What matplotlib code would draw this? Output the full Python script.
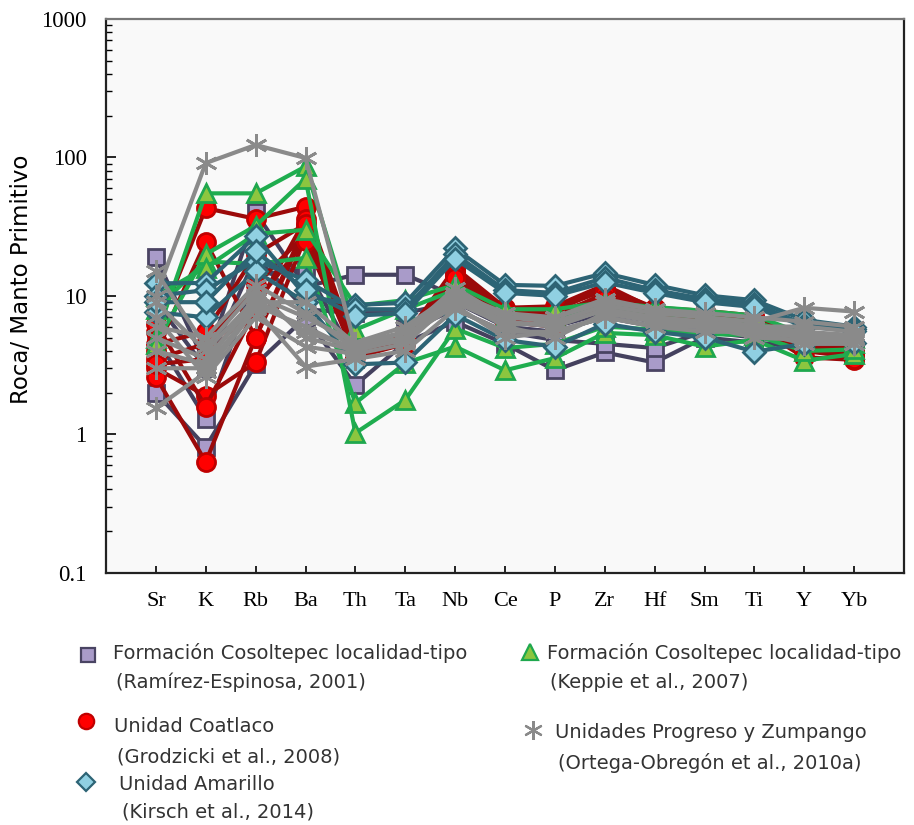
import matplotlib
matplotlib.use("Agg")
import matplotlib.pyplot as plt
import numpy as np

elements = ["Sr", "K", "Rb", "Ba", "Th", "Ta", "Nb", "Ce", "P", "Zr",
            "Hf", "Sm", "Ti", "Y", "Yb"]

# Formación Cosoltepec localidad-tipo (Ramírez-Espinosa, 2001)
ramirez = [
    [19, 3.2, 40, 11.7, 14.2, 14.2, 10, 6.5, 6, 7.5, 6.5, 6.5, 6, 5, 4.6],
    [2.0, 0.81, 3.2, 7, 2.27, 4.6, 6.5, 4.5, 2.9, 3.9, 3.3, 5, 4.6, 4.3, 4.0],
    [5, 1.3, 14, 16, 3.5, 5.5, 8, 5.5, 4.8, 4.5, 4.2, 5.5, 5, 4.6, 4.3],
    [9, 3, 19, 8, 7.5, 7.5, 9, 6, 5.5, 7, 6, 6, 5.5, 5, 4.7],
]

# Unidad Coatlaco (Grodzicki et al., 2008)
grodzicki = [
    [5.5, 43, 36, 44, 4.2, 5, 16, 8.2, 8.4, 12, 8, 7.5, 7, 4.8, 4.2],
    [4, 24.6, 5.0, 32.5, 3.8, 4.8, 14, 7.5, 7.5, 10, 7.5, 7, 6.5, 4.3, 3.9],
    [3, 1.9, 3.3, 26.8, 3.6, 4.5, 13, 7, 6.5, 9, 7, 6.5, 6, 3.6, 3.45],
    [2.6, 0.63, 5, 30, 4.5, 5.2, 15, 8, 8, 11, 7.5, 7.2, 6.8, 4.5, 4],
    [6.3, 1.58, 8, 36, 4, 5, 15.5, 7.8, 7.8, 11.5, 8.2, 7.8, 7.2, 4.6, 3.8],
    [3.5, 4.5, 12, 28, 3.8, 4.8, 12, 6.5, 6, 8.5, 6.8, 6.5, 6.2, 4, 3.6],
    [4.5, 5.5, 20, 33, 4.3, 5.3, 14.5, 7.2, 7, 10.5, 7.8, 7.4, 6.6, 4.4, 3.7],
    [3.2, 3.5, 9, 25, 3.9, 4.6, 13.5, 6.8, 6.8, 9.5, 7.2, 6.8, 6.4, 4.2, 3.5],
]

# Formación Cosoltepec localidad-tipo (Keppie et al., 2007)
keppie = [
    [5, 55, 55, 86, 5.7, 8, 11, 7, 7, 8.5, 7.5, 7, 6.5, 5, 4.6],
    [8, 17.7, 17, 18.8, 1.68, 3.27, 4.3, 2.9, 3.55, 5.4, 5.2, 4.3, 4.8, 3.4, 3.8],
    [4.5, 20, 32, 70, 1.02, 1.77, 5.8, 4.2, 4.5, 6, 5.7, 5.3, 5.2, 4, 4.1],
    [10, 16, 28, 30, 8.5, 9.3, 12, 8, 8, 9, 8.3, 7.8, 7.2, 5.3, 5],
]

# Unidad Amarillo (Kirsch et al., 2014)
kirsch = [
    [12.3, 12.4, 27, 10, 8.6, 8.9, 22, 12, 11.8, 14.6, 12, 10.1, 9.3, 6.7, 6],
    [10, 11, 18, 13, 8, 8, 20, 11, 10.5, 13.5, 11, 9.5, 8.8, 6.2, 5.8],
    [7.6, 7, 15, 9, 3.2, 3.3, 7.3, 4.8, 4.3, 6.3, 5.5, 5, 3.95, 4.5, 4.6],
    [9, 9, 21, 11, 7.2, 7.5, 18.5, 10.5, 10, 12.5, 10.5, 9, 8.3, 6, 5.6],
]

# Unidades Progreso y Zumpango (Ortega-Obregón et al., 2010a)
ortega = [
    [10, 91, 123, 99, 4.3, 5, 10, 7, 7, 9, 8, 7, 6.5, 8.2, 7.7],
    [1.55, 2.8, 8, 3.08, 3.5, 4, 8, 5.5, 5.5, 7, 6, 6, 5.5, 5, 4.5],
    [15, 4.3, 11, 5, 4, 5, 9.4, 6.5, 6, 8, 7, 6.5, 6, 5.5, 5],
    [5, 3.5, 9, 9, 4.5, 5.5, 11.4, 7, 6.5, 8.5, 7.5, 7, 6, 6, 5.5],
    [7, 2.6, 7, 4.3, 3.8, 4.5, 9.5, 6, 5, 7.5, 6.5, 6, 5, 4.8, 4.8],
    [4, 3.2, 10, 7, 4.6, 6, 10.5, 7.5, 7, 9.5, 8, 7.5, 7, 6.5, 6],
    [3, 3, 8.5, 6, 4, 5, 8.5, 5, 5.5, 7, 6, 5.5, 5.5, 4.5, 4.5],
    [9, 4, 9.5, 5.5, 4.2, 5.5, 10, 6.5, 6, 8, 7, 6.5, 6, 5.5, 5.2],
    [6, 5, 12, 7.5, 4.1, 4.8, 9, 6.2, 6.3, 7.8, 6.8, 6.2, 5.8, 5.2, 4.9],
]

star6 = (6, 2, 0)

styles = {
    "ramirez":   dict(color="#44415e", marker="s", mfc="#a99bc9", mec="#4a4463", ms=12),
    "grodzicki": dict(color="#9b0a0a", marker="o", mfc="#ff0000", mec="#c00000", ms=13),
    "keppie":    dict(color="#1fad4f", marker="^", mfc="#8cc63f", mec="#1fa84e", ms=13),
    "kirsch":    dict(color="#2d6475", marker="D", mfc="#90d0e2", mec="#2d6475", ms=11),
    "ortega":    dict(color="#8a8a8a", marker=star6, mfc="#8a8a8a", mec="#8a8a8a", ms=16),
}

fig = plt.figure(figsize=(9.14, 8.25), dpi=100)
ax = fig.add_axes([0.116, 0.3058, 0.8731, 0.6712])
ax.set_facecolor("#f9f9f9")

x = np.arange(1, len(elements) + 1)
for key, group in [("ramirez", ramirez), ("grodzicki", grodzicki),
                   ("keppie", keppie), ("kirsch", kirsch), ("ortega", ortega)]:
    st = styles[key]
    for row in group:
        ax.plot(x, row, lw=3.0, color=st["color"], marker=st["marker"],
                markerfacecolor=st["mfc"], markeredgecolor=st["mec"],
                markeredgewidth=2.0, markersize=st["ms"])

ax.set_yscale("log")
ax.set_ylim(0.1, 1000)
ax.set_xlim(0, len(elements) + 1)
ax.set_xticks(x)
ax.set_xticklabels(elements, family="Liberation Serif", fontsize=16)
ax.set_yticks([0.1, 1, 10, 100, 1000])
ax.set_yticklabels(["0.1", "1", "10", "100", "1000"],
                   family="Liberation Serif", fontsize=16.5)
ax.tick_params(axis="x", direction="in", length=5, width=1.2, pad=14)
ax.tick_params(axis="y", which="major", direction="in", length=7, width=1.2, pad=14)
ax.tick_params(axis="y", which="minor", direction="in", length=4, width=1.0)
ax.yaxis.set_minor_formatter(matplotlib.ticker.NullFormatter())
for side in ["left", "bottom", "right"]:
    ax.spines[side].set_linewidth(1.6)
    ax.spines[side].set_color("#222222")
ax.spines["top"].set_linewidth(1.6)
ax.spines["top"].set_color("#777777")

fig.text(0.024, 0.662, "Roca/ Manto Primitivo", rotation=90, fontsize=16.5,
         ha="center", va="center", family="DejaVu Sans")

# legend drawn in pixel coordinates on a full-figure overlay
lg = fig.add_axes([0, 0, 1, 1])
lg.set_xlim(0, 914)
lg.set_ylim(825, 0)
lg.axis("off")

entries = [
    ("ramirez", 88, 655, 113, ["Formación Cosoltepec localidad-tipo",
                               "(Ramírez-Espinosa, 2001)"], [653, 682]),
    ("grodzicki", 86, 721, 114, ["Unidad Coatlaco",
                                 "(Grodzicki et al., 2008)"], [727, 757]),
    ("kirsch", 86, 782, 119, ["Unidad Amarillo",
                              "(Kirsch et al., 2014)"], [784, 812]),
    ("keppie", 530, 652, 547, ["Formación Cosoltepec localidad-tipo",
                               "(Keppie et al., 2007)"], [653, 683]),
    ("ortega", 533, 730, 555, ["Unidades Progreso y Zumpango",
                               "(Ortega-Obregón et al., 2010a)"], [733, 763]),
]
for key, mx, my, tx, lines, ty in entries:
    st = styles[key]
    lg.plot([mx], [my], linestyle="none", marker=st["marker"],
            markerfacecolor=st["mfc"], markeredgecolor=st["mec"],
            markeredgewidth=1.6, markersize=st["ms"] * 0.85)
    for i, (txt, yy) in enumerate(zip(lines, ty)):
        lg.text(tx + (3 if i else 0), yy, txt, fontsize=14, color="#333333",
                ha="left", va="center", family="DejaVu Sans")

fig.savefig("out.png", dpi=100, facecolor="white")
